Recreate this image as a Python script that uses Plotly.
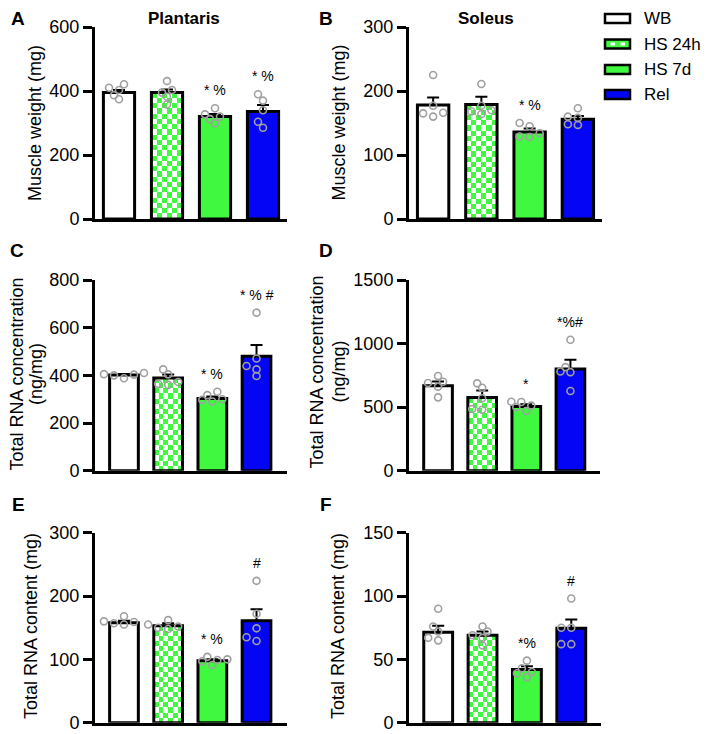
import numpy as np
import plotly.graph_objects as go

W, H = 709, 734
SHIFT = 8  # page body margin offset compensation
FONT = "Liberation Sans, Arial, sans-serif"

groups = ["WB", "HS 24h", "HS 7d", "Rel"]
bar_colors = ["#ffffff", "#40f840", "#40f840", "#0505f5"]

# ---- data ----
a_mean = [395, 395, 320, 336]
a_sem = [8, 10, 8, 20]
a_pts = [[374, 387, 403, 410, 421], [358, 382, 395, 403, 431],
         [299, 312, 320, 327, 346], [285, 304, 340, 370, 390]]
a_sig = ["", "", "* %", "* %"]

b_mean = [178, 179, 136, 156]
b_sem = [12, 12, 5.5, 5]
b_pts = [[160, 165, 166, 177, 225], [164, 168, 170, 177, 211],
         [128, 129, 134, 145, 150], [147, 148, 158, 160, 173]]
b_sig = ["", "", "* %", ""]

c_mean = [401, 389, 303, 480]
c_sem = [5, 15, 8, 47]
c_pts = [[388, 400, 403, 405, 410], [360, 365, 372, 404, 425],
         [290, 297, 300, 317, 331], [397, 425, 439, 471, 663]]
c_sig = ["", "", "* %", "* % #"]

d_mean = [668, 575, 505, 800]
d_sem = [34, 55, 18, 72]
d_pts = [[577, 661, 690, 700, 745], [480, 485, 570, 653, 687],
         [470, 500, 512, 540, 542], [627, 775, 780, 815, 1030]]
d_sig = ["", "", "*", "*%#"]

e_mean = [158, 153, 98, 161]
e_sem = [3, 4, 2, 18]
e_pts = [[155, 157, 159, 160, 168], [148, 150, 152, 155, 162],
         [91, 97, 99, 100, 104], [129, 135, 149, 172, 224]]
e_sig = ["", "", "* %", "#"]

f_mean = [71.5, 69, 42, 74.5]
f_sem = [5, 3, 2.5, 7]
f_pts = [[65, 67, 72, 76, 90], [61, 67, 69, 72, 76],
         [36, 39, 40, 43, 49], [62, 62, 75, 75, 98]]
f_sig = ["", "", "*%", "#"]

panels = [
    dict(letter="A", mean=a_mean, sem=a_sem, pts=a_pts, sig=a_sig, ymax=600, dtick=200,
         dx=(95, 287), dy=(27, 219), xr=(-0.5, 3.5),
         titles=[("Muscle weight (mg)", 35)], ty=123, lpos=(18, 19)),
    dict(letter="B", mean=b_mean, sem=b_sem, pts=b_pts, sig=b_sig, ymax=300, dtick=100,
         dx=(409, 602), dy=(27, 219), xr=(-0.5, 3.5),
         titles=[("Muscle weight (mg)", 338.5)], ty=123, lpos=(326, 19)),
    dict(letter="C", mean=c_mean, sem=c_sem, pts=c_pts, sig=c_sig, ymax=800, dtick=200,
         dx=(95, 287), dy=(280, 470.7), xr=(-0.656, 3.69),
         titles=[("Total RNA concentration", 16.5), ("(ng/mg)", 36)], ty=374,
         lpos=(17, 250)),
    dict(letter="D", mean=d_mean, sem=d_sem, pts=d_pts, sig=d_sig, ymax=1500, dtick=500,
         dx=(409, 600), dy=(280, 470.7), xr=(-0.658, 3.67),
         titles=[("Total RNA concentration", 316.5), ("(ng/mg)", 338.5)], ty=372,
         lpos=(326, 251)),
    dict(letter="E", mean=e_mean, sem=e_sem, pts=e_pts, sig=e_sig, ymax=300, dtick=100,
         dx=(95, 287), dy=(532.7, 722.7), xr=(-0.656, 3.69),
         titles=[("Total RNA content (mg)", 31)], ty=626, lpos=(18, 504)),
    dict(letter="F", mean=f_mean, sem=f_sem, pts=f_pts, sig=f_sig, ymax=150, dtick=50,
         dx=(409, 601), dy=(532.7, 722.7), xr=(-0.658, 3.67),
         titles=[("Total RNA content (mg)", 338)], ty=626, lpos=(326, 504)),
]

BAR_W = 0.65


def fx(x):
    return (x - SHIFT) / W


def fy(y):
    return 1 - (y - SHIFT) / H


def swarm(vals, ppu, ppc, d=6.5, step=5.0):
    order = np.argsort(vals)
    placed = []
    offs = [0.0] * len(vals)
    cands = [0.0]
    for m in range(1, 12):
        cands += [-m * step, m * step]
    for i in order:
        y = vals[i] * ppu
        chosen = cands[-1]
        for c in cands:
            if all((c - px) ** 2 + (y - py) ** 2 >= d * d for px, py in placed):
                chosen = c
                break
        placed.append((chosen, y))
        offs[i] = chosen / ppc
    return offs


fig = go.Figure()
annotations = []
layout_axes = {}

for k, p in enumerate(panels):
    n = k + 1
    xa = "x" if n == 1 else f"x{n}"
    ya = "y" if n == 1 else f"y{n}"
    xkey = "xaxis" if n == 1 else f"xaxis{n}"
    ykey = "yaxis" if n == 1 else f"yaxis{n}"
    x0, x1 = p["dx"]
    y0, y1 = p["dy"]
    ppu = (y1 - y0) / p["ymax"]
    ppc = (x1 - x0) / (p["xr"][1] - p["xr"][0])
    cats = list(range(len(groups)))

    # checkered fill for HS 24h
    ci = 1
    val = p["mean"][ci]
    ncol = max(2, int(round(BAR_W * ppc / 5.2)))
    nrow = max(2, int(round(val * ppu / 5.2)))
    xe = np.linspace(ci - BAR_W / 2, ci + BAR_W / 2, ncol + 1)
    ye = np.linspace(0, val, nrow + 1)
    z = [[(r + c) % 2 for c in range(ncol)] for r in range(nrow)]
    fig.add_trace(go.Heatmap(x=xe, y=ye, z=z, xaxis=xa, yaxis=ya, showscale=False,
                             colorscale=[[0, "#ffffff"], [1, "#40f840"]],
                             zmin=0, zmax=1, hoverinfo="skip"))

    colors = list(bar_colors)
    colors[1] = "rgba(0,0,0,0)"
    fig.add_trace(go.Bar(x=cats, y=p["mean"], width=BAR_W, xaxis=xa, yaxis=ya,
                         marker=dict(color=colors, line=dict(color="black", width=3)),
                         error_y=dict(type="data", symmetric=False, array=p["sem"],
                                      arrayminus=[0] * 4, color="black",
                                      thickness=2, width=6)))

    for gi, pts in enumerate(p["pts"]):
        offs = swarm(pts, ppu, ppc)
        fig.add_trace(go.Scatter(x=[gi + o for o in offs], y=pts, mode="markers",
                                 xaxis=xa, yaxis=ya,
                                 marker=dict(symbol="circle-open", size=7,
                                             color="#a0a0a0", line=dict(width=1.6))))
        if p["sig"][gi]:
            annotations.append(dict(x=gi, y=max(pts), xref=xa, yref=ya, text=p["sig"][gi],
                                    showarrow=False, yshift=18, yanchor="middle",
                                    font=dict(family=FONT, size=14, color="black"),
                                    ))

    layout_axes[xkey] = dict(domain=[fx(x0), fx(x1)], range=list(p["xr"]), anchor=ya,
                             showline=True, linewidth=3, linecolor="black",
                             showticklabels=False, ticks="", showgrid=False,
                             zeroline=False, fixedrange=True, automargin=False)
    layout_axes[ykey] = dict(domain=[fy(y1), fy(y0)], range=[0, p["ymax"]],
                             anchor=xa, dtick=p["dtick"], tick0=0,
                             showline=True, linewidth=3, linecolor="black",
                             ticks="outside", ticklen=9, tickwidth=3, tickcolor="black",
                             tickfont=dict(family=FONT, size=18, color="black"),
                             showgrid=False, zeroline=False, fixedrange=True,
                             automargin=False)

    for ttxt, tx in p["titles"]:
        annotations.append(dict(x=fx(tx), y=fy(p["ty"]), xref="paper", yref="paper",
                                text=ttxt, textangle=-90, showarrow=False,
                                xanchor="center", yanchor="middle",
                                font=dict(family=FONT, size=18, color="black")))
    lx, ly = p["lpos"]
    annotations.append(dict(x=fx(lx), y=fy(ly), xref="paper", yref="paper",
                            text="<b>" + p["letter"] + "</b>", showarrow=False,
                            xanchor="center", yanchor="middle",
                            font=dict(family=FONT, size=19, color="black")))

# column titles
for txt, cx in [("Plantaris", 183.5), ("Soleus", 486.5)]:
    annotations.append(dict(x=fx(cx), y=fy(18.5), xref="paper", yref="paper",
                            text="<b>" + txt + "</b>",
                            showarrow=False, xanchor="center", yanchor="middle",
                            font=dict(family=FONT, size=17, color="black")))

# legend (drawn manually)
shapes = []
leg_rows = [18.5, 44, 69.5, 94.5]
bx0, bx1 = 605, 630
for gi, (g, cy) in enumerate(zip(groups, leg_rows)):
    shapes.append(dict(type="rect", xref="paper", yref="paper", x0=fx(bx0), x1=fx(bx1),
                       y0=fy(cy + 4.5), y1=fy(cy - 4.5), fillcolor=bar_colors[gi],
                       line=dict(color="black", width=2.5)))
    if gi == 1:
        for sx in (610.5, 620.5):
            shapes.append(dict(type="rect", xref="paper", yref="paper",
                               x0=fx(sx), x1=fx(sx + 4.5),
                               y0=fy(cy + 1.5), y1=fy(cy - 1.5),
                               fillcolor="white", line=dict(width=0)))
    annotations.append(dict(x=fx(642), y=fy(cy), xref="paper", yref="paper", text=g,
                            showarrow=False, xanchor="left", yanchor="middle",
                            font=dict(family=FONT, size=17, color="black")))

fig.update_layout(width=W, height=H, margin=dict(l=0, r=0, t=0, b=0, pad=0),
                  paper_bgcolor="white", plot_bgcolor="white", showlegend=False,
                  annotations=annotations, shapes=shapes, **layout_axes)

fig.write_html("out.html")
